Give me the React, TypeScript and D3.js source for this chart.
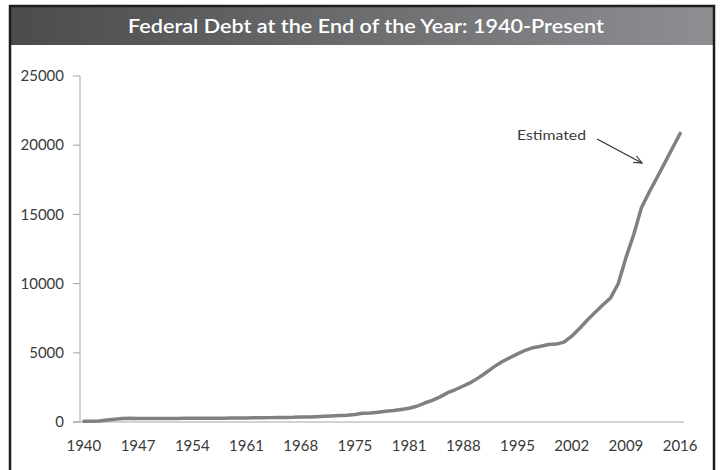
import React from "react";
import * as d3 from "d3";

const years: string[] = [
  "1940","1941","1942","1943","1944","1945","1946","1947","1948","1949",
  "1950","1951","1952","1953","1954","1955","1956","1957","1958","1959",
  "1960","1961","1962","1963","1964","1965","1966","1967","1968","1969",
  "1970","1971","1972","1973","1974","1975","1976","TQ","1977","1978","1979",
  "1980","1981","1982","1983","1984","1985","1986","1987","1988","1989",
  "1990","1991","1992","1993","1994","1995","1996","1997","1998","1999",
  "2000","2001","2002","2003","2004","2005","2006","2007","2008","2009",
  "2010","2011","2012","2013","2014","2015","2016",
];

const debt: number[] = [
  50.7, 57.5, 79.2, 142.6, 204.1, 260.1, 271.0, 257.1, 252.0, 252.6,
  256.9, 255.3, 259.1, 266.0, 270.8, 274.4, 272.7, 272.3, 279.7, 287.5,
  290.5, 292.6, 302.9, 310.3, 316.1, 322.3, 328.5, 340.4, 368.7, 365.8,
  380.9, 408.2, 435.9, 466.3, 483.9, 541.9, 629.0, 643.6, 706.4, 776.6, 829.5,
  909.0, 994.8, 1137.3, 1371.7, 1564.6, 1817.4, 2120.5, 2346.0, 2601.1, 2867.8,
  3206.3, 3598.2, 4001.8, 4351.0, 4643.3, 4920.6, 5181.5, 5369.2, 5478.2, 5605.5,
  5628.7, 5769.9, 6198.4, 6760.0, 7354.7, 7905.3, 8451.4, 8950.7, 9986.1, 11875.9,
  13528.8, 15476.2, 16600.0, 17650.0, 18700.0, 19780.0, 20850.0,
];

const yTicks: number[] = [0, 5000, 10000, 15000, 20000, 25000];
const xTickLabels: string[] = ["1940","1947","1954","1961","1968","1975","1981","1988","1995","2002","2009","2016"];

const title = "Federal Debt at the End of the Year: 1940-Present";
const annotation = "Estimated";

export default function App() {
  const x = d3.scalePoint<string>().domain(years).range([80, 684]).padding(0.5);
  const y = d3.scaleLinear().domain([0, 25000]).range([422, 76]);
  const line = d3
    .line<number>()
    .x((_, i) => x(years[i]) as number)
    .y((d) => y(d))
    .curve(d3.curveLinear);

  const font = "Lato, 'Open Sans', sans-serif";
  const labelColor = "#3a3a3a";
  const axisColor = "#a6a6a6";

  return (
    <svg
      width={720}
      height={470}
      style={{ position: "absolute", left: 0, top: 0, background: "#fff" }}
    >
      <defs>
        <linearGradient id="tg" x1="0" x2="1" y1="0" y2="0">
          <stop offset="0" stopColor="#4b4b4b" />
          <stop offset="1" stopColor="#8e8f93" />
        </linearGradient>
        <marker id="arr" viewBox="0 0 10 10" refX="9" refY="5" markerWidth="9" markerHeight="9" orient="auto" markerUnits="userSpaceOnUse">
          <path d="M0,1 L9,5 L0,9" fill="none" stroke="#333" strokeWidth={1.3} />
        </marker>
      </defs>

      {/* title bar */}
      <rect x={10} y={6} width={704} height={39} fill="url(#tg)" />
      <text
        x={128}
        y={33}
        fill="#ffffff"
        fontFamily={font}
        fontSize={20}
        fontWeight={600}
        textLength={476}
        lengthAdjust="spacingAndGlyphs"
      >
        {title}
      </text>

      {/* frame */}
      <rect x={10} y={6} width={704} height={480} fill="none" stroke="#1e1e1e" strokeWidth={2.5} />

      {/* y axis */}
      <line x1={80} x2={80} y1={y(25000)} y2={y(0)} stroke={axisColor} strokeWidth={1} />
      {yTicks.map((t) => (
        <g key={t}>
          <line x1={73} x2={80} y1={y(t)} y2={y(t)} stroke={axisColor} strokeWidth={1} />
          <text
            x={64}
            y={y(t)}
            dy="0.35em"
            textAnchor="end"
            fill={labelColor}
            fontFamily={font}
            fontSize={15}
          >
            {t}
          </text>
        </g>
      ))}

      {/* x axis */}
      <line x1={73} x2={684} y1={y(0)} y2={y(0)} stroke={axisColor} strokeWidth={1} />
      {xTickLabels.map((l) => (
        <text
          key={l}
          x={x(l) as number}
          y={451}
          textAnchor="middle"
          fill={labelColor}
          fontFamily={font}
          fontSize={15}
        >
          {l}
        </text>
      ))}

      {/* data line */}
      <path
        d={line(debt) || ""}
        fill="none"
        stroke="#808080"
        strokeWidth={3.5}
        strokeLinejoin="round"
        strokeLinecap="round"
      />

      {/* annotation */}
      <text x={517} y={140} fill={labelColor} fontFamily={font} fontSize={14} textLength={69} lengthAdjust="spacingAndGlyphs">
        {annotation}
      </text>
      <line x1={597} y1={139} x2={642} y2={163} stroke="#333" strokeWidth={1.3} markerEnd="url(#arr)" />
    </svg>
  );
}
